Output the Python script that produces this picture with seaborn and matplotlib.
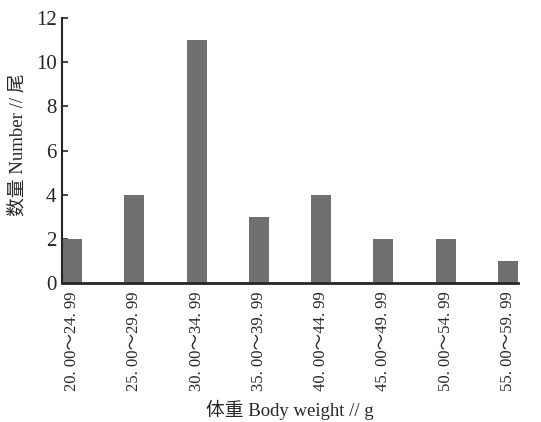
import matplotlib
matplotlib.use("Agg")
import matplotlib.pyplot as plt
import seaborn as sns
import pandas as pd

categories = ["20. 00～24. 99", "25. 00～29. 99", "30. 00～34. 99", "35. 00～39. 99",
              "40. 00～44. 99", "45. 00～49. 99", "50. 00～54. 99", "55. 00～59. 99"]
counts = [2, 4, 11, 3, 4, 2, 2, 1]
yticks = [0, 2, 4, 6, 8, 10, 12]

sns.set_style("ticks")
fam = ["Liberation Serif", "Noto Sans CJK SC", "DejaVu Sans"]
plt.rcParams["font.family"] = fam

df = pd.DataFrame({"cat": categories, "n": counts})
fig = plt.figure(figsize=(5.41, 4.22), dpi=100)
ax = fig.add_axes([62/541, 1-283/422, (518-62)/541, (283-18)/422])
sns.barplot(data=df, x="cat", y="n", color="#707070", saturation=1, width=0.32, ax=ax)
for p in ax.patches:
    p.set_edgecolor("none")
ax.set_xlim(-0.16, 7.16)
ax.set_ylim(0, 12)
ax.set_yticks(yticks)
ax.set_yticklabels([str(v) for v in yticks], fontsize=15)
ax.tick_params(axis="y", direction="in", length=4, width=1.2, pad=4)
ax.tick_params(axis="x", length=0, pad=6)
ax.set_xticks(range(len(categories)))
ax.set_xticklabels(categories, rotation=90, fontsize=12)
for s in ["top", "right"]:
    ax.spines[s].set_visible(False)
ax.spines["left"].set_linewidth(1.5)
ax.spines["bottom"].set_linewidth(2)
ax.set_xlabel("")
ax.set_ylabel("")
fig.text(290/541, 1-410/422, "体重 Body weight // g", fontsize=13.5, ha="center", va="center")
fig.text(18/541, 1-145/422, "数量 Number // 尾", fontsize=13.5, ha="center", va="center", rotation=90)
fig.savefig("out.png", dpi=100)
